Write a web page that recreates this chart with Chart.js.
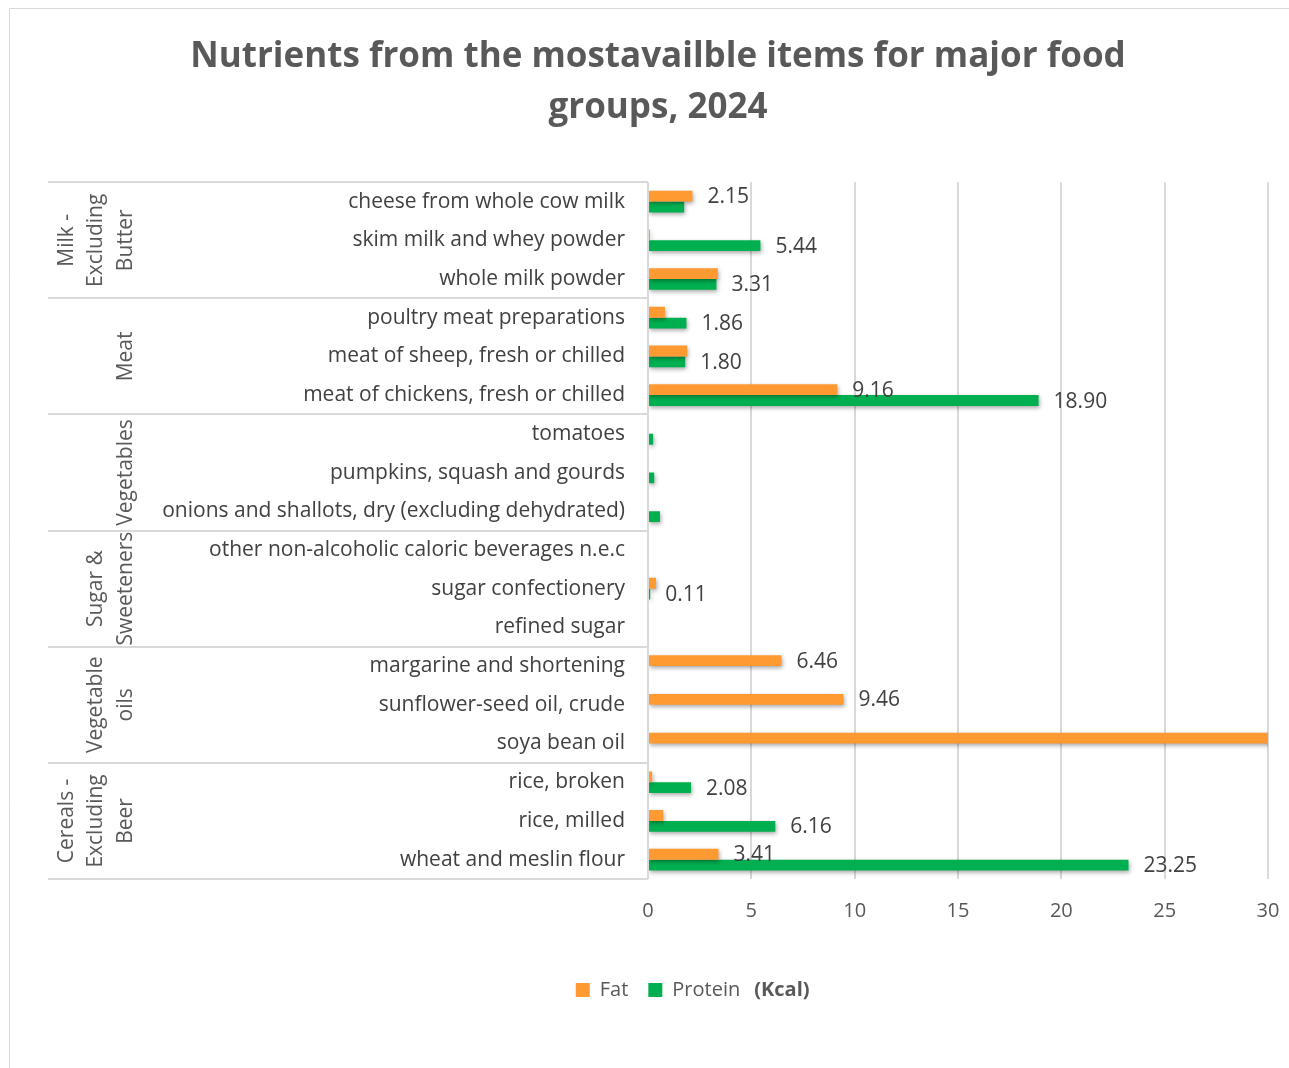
<!DOCTYPE html>
<html><head><meta charset="utf-8">
<style>html,body{margin:0;padding:0;background:#fff;}canvas{display:block;}</style>
<script src="https://cdn.jsdelivr.net/npm/chart.js@4/dist/chart.umd.min.js"></script>
</head><body>
<canvas id="c" width="1289" height="1068" style="width:1289px;height:1068px"></canvas>
<script>
const categories = [
  "cheese from whole cow milk","skim milk and whey powder","whole milk powder",
  "poultry meat preparations","meat of sheep, fresh or chilled","meat of chickens, fresh or chilled",
  "tomatoes","pumpkins, squash and gourds","onions and shallots, dry (excluding dehydrated)",
  "other non-alcoholic caloric beverages n.e.c","sugar confectionery","refined sugar",
  "margarine and shortening","sunflower-seed oil, crude","soya bean oil",
  "rice, broken","rice, milled","wheat and meslin flour"
];
const groupNames = [["Milk -","Excluding","Butter"],["Meat"],["Vegetables"],["Sugar &","Sweeteners"],["Vegetable","oils"],["Cereals -","Excluding","Beer"]];
const groupSizes = [3,3,3,3,3,3];
const fatValues     = [2.15,0.10,3.38,0.82,1.89,9.16,0.05,0,0,0,0.39,0,6.46,9.46,32,0.20,0.73,3.41];
const proteinValues = [1.75,5.44,3.31,1.86,1.80,18.90,0.25,0.30,0.58,0,0.11,0,0,0,0,2.08,6.16,23.25];
const fatLabelShown     = [1,0,0,0,0,1,0,0,0,0,0,0,1,1,0,0,0,1];
const proteinLabelShown = [0,1,1,1,1,1,0,0,0,0,1,0,0,0,0,1,1,1];
const xTicks = [0,5,10,15,20,25,30];
const unitText = "(Kcal)";

const FONT = "'Open Sans', Lato, sans-serif";

const framePlugin = {
  id: 'frame',
  beforeDraw(chart){
    const ctx = chart.ctx;
    ctx.save();
    ctx.strokeStyle = '#d9d9d9'; ctx.lineWidth = 1;
    ctx.beginPath(); ctx.moveTo(9.5,1068); ctx.lineTo(9.5,8.5); ctx.lineTo(1289,8.5); ctx.stroke();
    ctx.restore();
  },
  beforeDatasetsDraw(chart){
    const ctx = chart.ctx;
    ctx.save();
    ctx.shadowColor = 'rgba(0,0,0,0.35)';
    ctx.shadowBlur = 4; ctx.shadowOffsetX = 1; ctx.shadowOffsetY = 2;
  },
  afterDatasetsDraw(chart){
    const ctx = chart.ctx;
    ctx.restore();
    ctx.save();
    ctx.font = "21px " + FONT;
    ctx.fillStyle = '#404040';
    ctx.textBaseline = 'middle'; ctx.textAlign = 'left';
    const shown = [fatLabelShown, proteinLabelShown];
    chart.data.datasets.forEach((ds, di) => {
      const meta = chart.getDatasetMeta(di);
      meta.data.forEach((bar, i) => {
        if (!shown[di][i]) return;
        ctx.fillText(ds.data[i].toFixed(2), bar.x + 15, bar.y + 1);
      });
    });
    ctx.restore();
  },
  afterDraw(chart){
    const ctx = chart.ctx;
    const ys = chart.scales.y;
    const left = 48, right = chart.chartArea.left;
    ctx.save();
    ctx.strokeStyle = '#d9d9d9'; ctx.lineWidth = 2;
    const half = (ys.getPixelForValue(1) - ys.getPixelForValue(0)) / 2;
    let idx = 0;
    const bounds = [];
    bounds.push(ys.getPixelForValue(0) - half);
    groupSizes.forEach(n => { idx += n; bounds.push(ys.getPixelForValue(idx - 1) + half); });
    bounds.forEach(y => { ctx.beginPath(); ctx.moveTo(left, Math.round(y)); ctx.lineTo(right, Math.round(y)); ctx.stroke(); });
    ctx.beginPath(); ctx.moveTo(right, bounds[0]); ctx.lineTo(right, bounds[bounds.length-1]); ctx.stroke();
    ctx.font = "21px " + FONT;
    ctx.fillStyle = '#595959';
    ctx.textAlign = 'center'; ctx.textBaseline = 'middle';
    groupNames.forEach((lines, g) => {
      const cy = (bounds[g] + bounds[g+1]) / 2;
      const n = lines.length;
      lines.forEach((t, k) => {
        const x = 126 - (n - 1 - k) * 29.5;
        ctx.save();
        ctx.translate(x, cy);
        ctx.rotate(-Math.PI/2);
        ctx.fillText(t, 0, 0);
        ctx.restore();
      });
    });
    const boxes = chart.legend.legendHitBoxes;
    if (boxes && boxes.length) {
      const last = boxes[boxes.length-1];
      ctx.font = "bold 20px " + FONT;
      ctx.fillStyle = '#595959';
      ctx.textAlign = 'left';
      ctx.fillText(unitText, last.left + last.width + 14, last.top + last.height/2);
    }
    ctx.restore();
  }
};

new Chart(document.getElementById('c'), {
  type: 'bar',
  data: {
    labels: categories,
    datasets: [
      { label: 'Fat', data: fatValues, backgroundColor: '#FF9A33', categoryPercentage: 0.56, barPercentage: 1 },
      { label: 'Protein', data: proteinValues, backgroundColor: '#00B050', categoryPercentage: 0.56, barPercentage: 1 }
    ]
  },
  options: {
    indexAxis: 'y',
    responsive: false,
    devicePixelRatio: 1,
    animation: false,
    layout: { padding: { left: 48, right: 21, top: 0, bottom: 58 } },
    scales: {
      x: {
        min: 0, max: 30,
        afterBuildTicks(s){ s.ticks = xTicks.map(v => ({value: v})); },
        afterFit(s){ s.height += 17; s.paddingRight = 0; s.paddingLeft = 0; },
        ticks: { font: { family: FONT, size: 20 }, color: '#595959', padding: 20 },
        grid: { color: '#d9d9d9', lineWidth: 2, drawTicks: false },
        border: { display: false }
      },
      y: {
        afterFit(s){ s.width = 600; },
        ticks: { font: { family: FONT, size: 21 }, color: '#404040', padding: 23, autoSkip: false },
        grid: { display: false, drawTicks: false },
        border: { display: false }
      }
    },
    plugins: {
      title: {
        display: true,
        text: ["Nutrients from the mostavailble items for major food", "groups, 2024"],
        font: { family: FONT, size: 35, weight: 'bold', lineHeight: 1.46 },
        color: '#595959',
        padding: { top: 31, bottom: 49 }
      },
      legend: {
        position: 'bottom',
        labels: { font: { family: FONT, size: 20 }, color: '#595959', boxWidth: 14, boxHeight: 14, padding: 20 }
      },
      tooltip: { enabled: false }
    }
  },
  plugins: [framePlugin]
});
</script>
</body></html>
